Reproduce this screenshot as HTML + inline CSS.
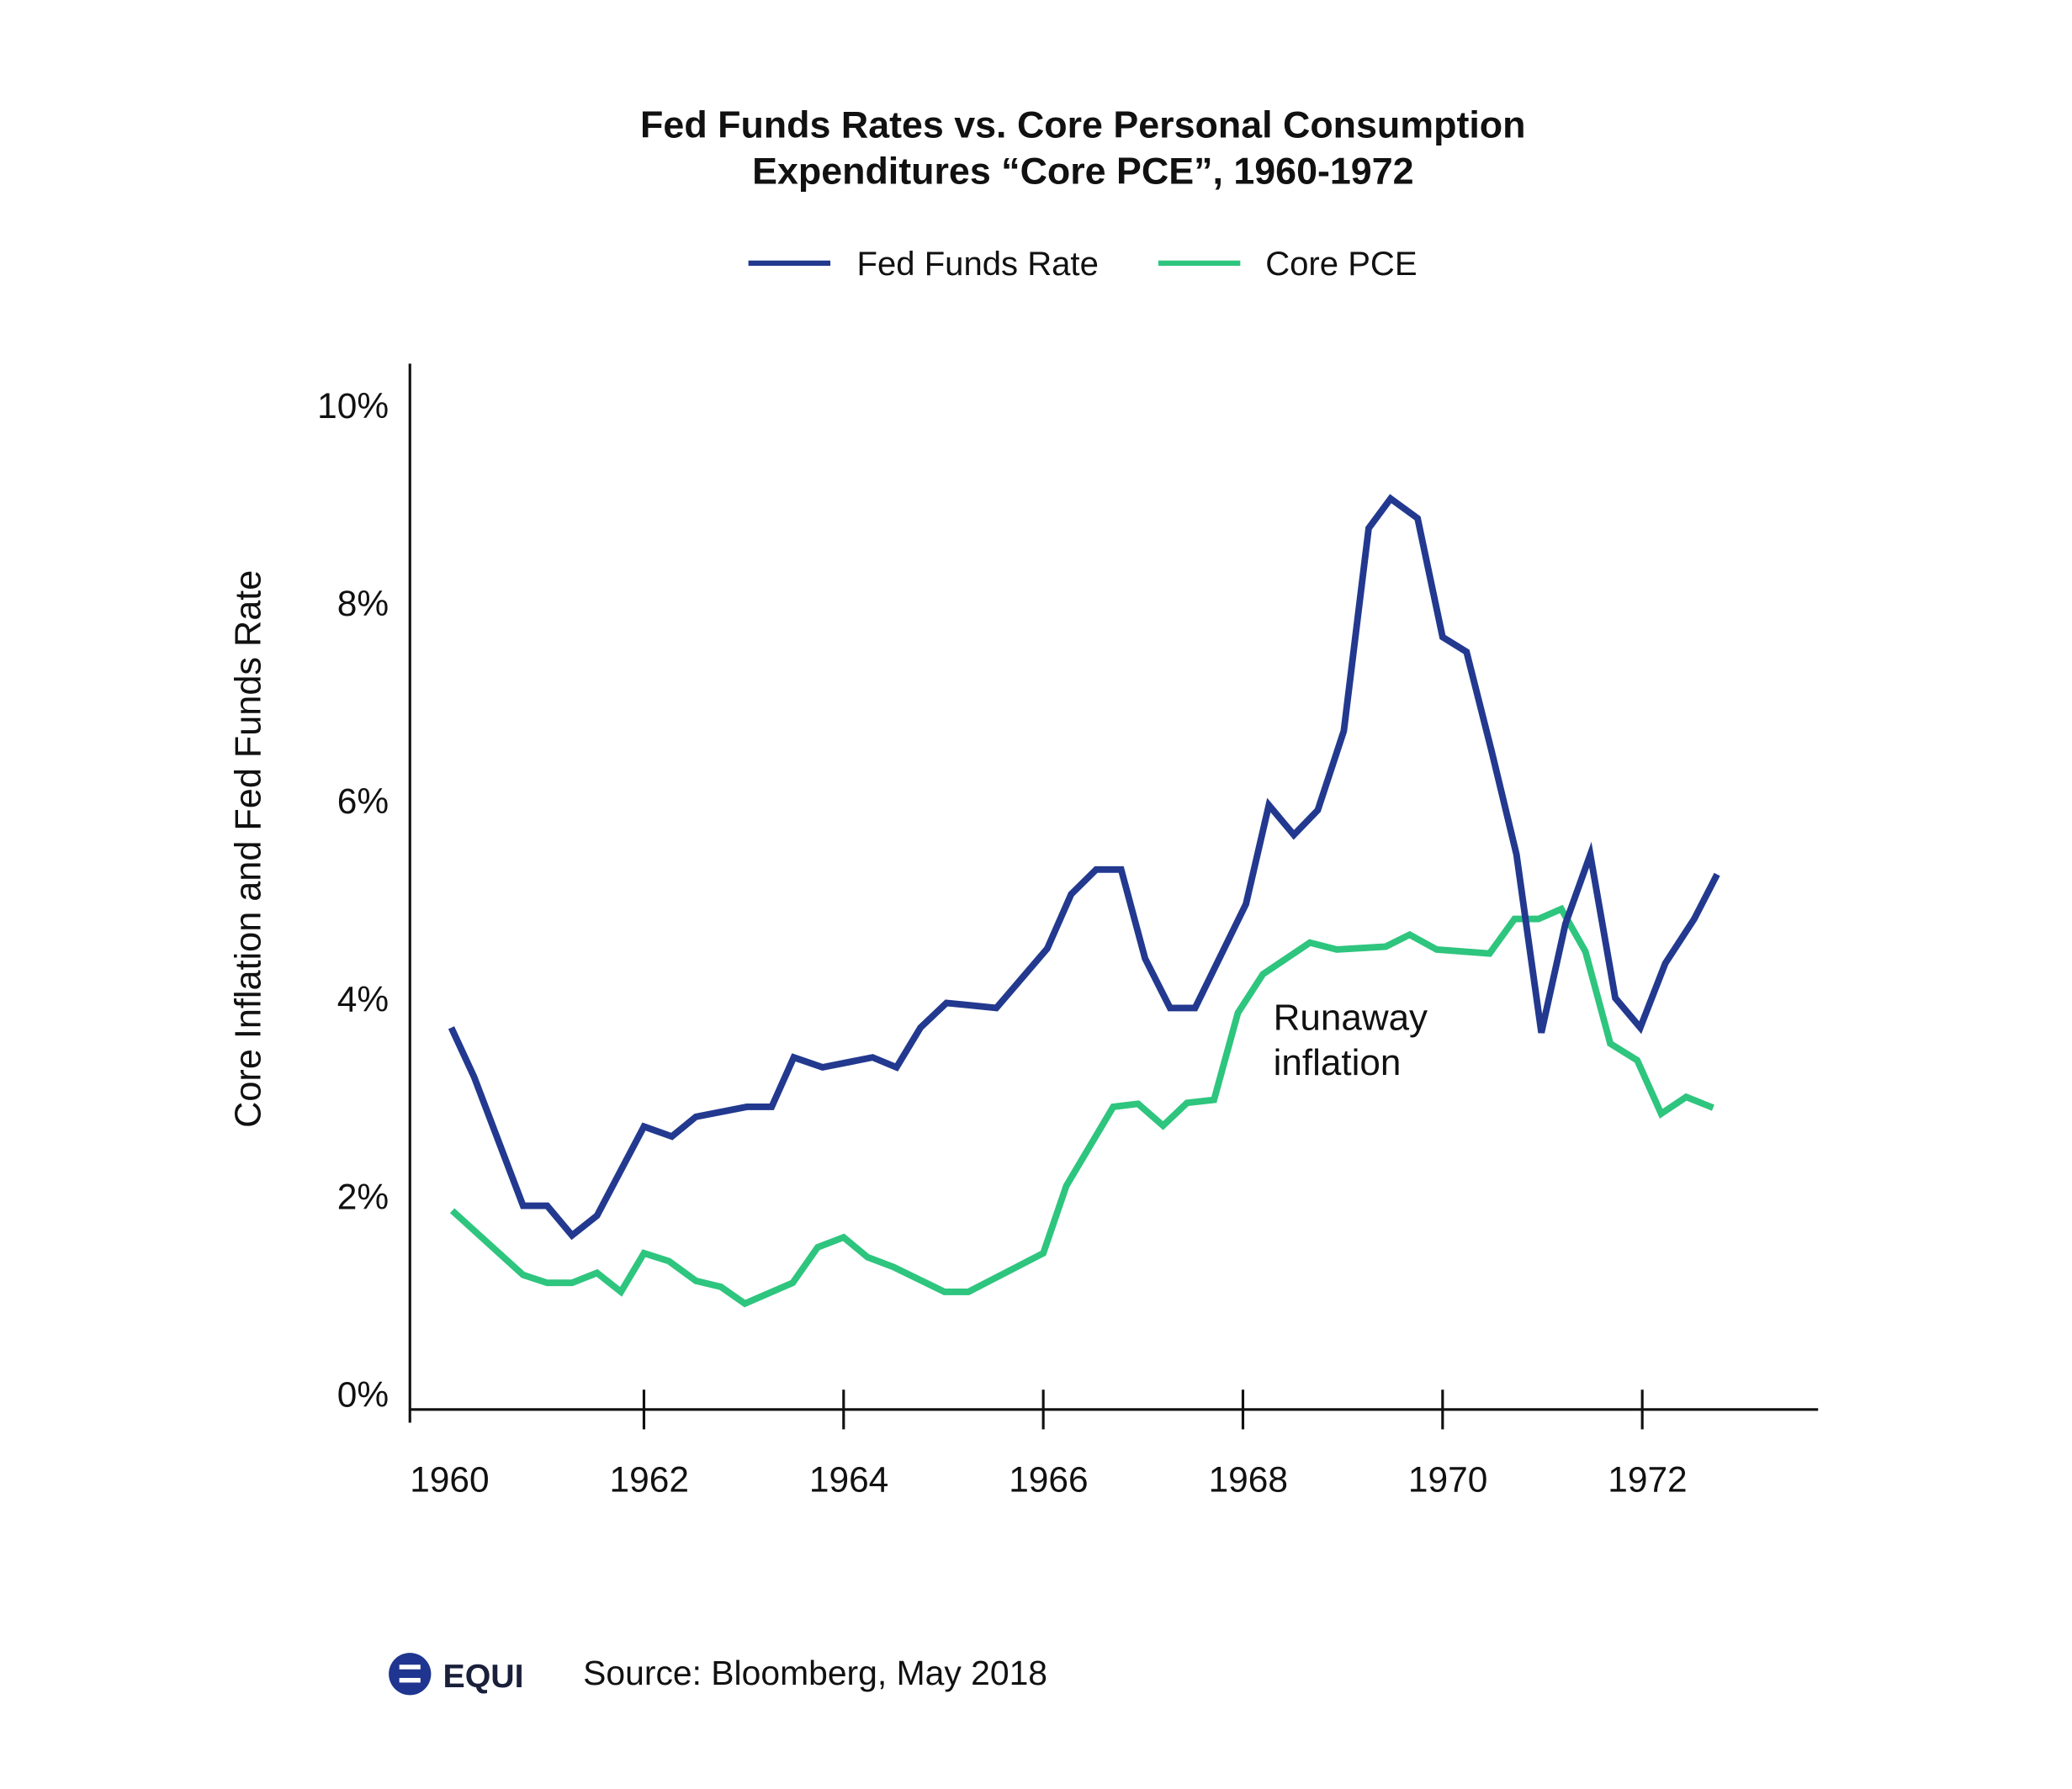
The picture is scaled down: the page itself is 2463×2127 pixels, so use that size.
<!DOCTYPE html>
<html><head><meta charset="utf-8"><style>
html,body{margin:0;padding:0;background:#fff}
svg{display:block;font-family:"Liberation Sans",sans-serif}
</style></head><body>
<svg id="chart" width="2463" height="2127" viewBox="0 0 1567 1353" preserveAspectRatio="none" xmlns="http://www.w3.org/2000/svg">
<rect width="1600" height="1400" fill="#fff"/>
<g font-size="28.5" font-weight="bold" fill="#111" text-anchor="middle">
<text x="819" y="104">Fed Funds Rates vs. Core Personal Consumption</text>
<text x="819" y="139">Expenditures “Core PCE”, 1960-1972</text>
</g>
<g font-size="25.5" fill="#111">
<line x1="566" y1="199" x2="628" y2="199" stroke="#22398f" stroke-width="4"/>
<text x="648" y="208">Fed Funds Rate</text>
<line x1="876" y1="199" x2="938" y2="199" stroke="#2ec57e" stroke-width="4"/>
<text x="957" y="208">Core PCE</text>
</g>
<line x1="310" y1="275" x2="310" y2="1076" stroke="#111" stroke-width="2"/>
<line x1="310" y1="1066" x2="1375" y2="1066" stroke="#111" stroke-width="2"/>
<text transform="translate(197,642) rotate(-90)" text-anchor="middle" font-size="27.5" fill="#111">Core Inflation and Fed Funds Rate</text>
<g id="yticks" font-size="27" fill="#111" text-anchor="end"></g>
<g id="xticks" font-size="27" fill="#111" text-anchor="middle"></g>
<g id="series"></g>
<g font-size="28" fill="#111">
<text x="963" y="779">Runaway</text>
<text x="963" y="813">inflation</text>
</g>
<g>
<circle cx="310" cy="1266" r="16" fill="#1f3590"/>
<rect x="302" y="1259" width="16" height="3.5" fill="#fff"/>
<rect x="302" y="1269" width="16" height="3.5" fill="#fff"/>
<text x="335" y="1276" font-size="25" font-weight="bold" fill="#1a1f3a">EQUI</text>
<text x="441" y="1274" font-size="26" fill="#111">Source: Bloomberg, May 2018</text>
</g>
</svg>
<script>
const yTickValues=[0,2,4,6,8,10];
const xTickYears=[1962,1964,1966,1968,1970,1972];
const xLabelYears=[1960,1962,1964,1966,1968,1970,1972];
const fedYears=[1960.07,1960.3,1960.79,1961.03,1961.28,1961.53,1962.0,1962.28,1962.52,1963.03,1963.28,1963.5,1963.79,1964.29,1964.53,1964.77,1965.03,1965.53,1966.04,1966.28,1966.53,1966.78,1967.02,1967.27,1967.52,1968.03,1968.26,1968.51,1968.75,1969.01,1969.26,1969.48,1969.75,1970.0,1970.24,1970.49,1970.74,1970.99,1971.23,1971.48,1971.73,1971.98,1972.23,1972.52,1972.75];
const fedValues=[3.7,3.2,1.9,1.9,1.6,1.8,2.7,2.6,2.8,2.9,2.9,3.4,3.3,3.4,3.3,3.7,3.95,3.9,4.5,5.05,5.3,5.3,4.4,3.9,3.9,4.95,5.95,5.65,5.9,6.7,8.75,9.05,8.85,7.65,7.5,6.5,5.45,3.65,4.75,5.45,4.0,3.7,4.35,4.8,5.25];
const pceYears=[1960.08,1960.79,1961.03,1961.28,1961.53,1961.77,1962.0,1962.25,1962.52,1962.77,1963.01,1963.49,1963.74,1964.0,1964.24,1964.5,1965.01,1965.25,1966.0,1966.23,1966.7,1966.95,1967.2,1967.44,1967.71,1967.95,1968.2,1968.67,1968.94,1969.43,1969.67,1969.94,1970.47,1970.72,1970.96,1971.19,1971.43,1971.68,1971.95,1972.19,1972.44,1972.71];
const pceValues=[1.85,1.2,1.12,1.12,1.22,1.03,1.42,1.34,1.14,1.08,0.91,1.12,1.48,1.58,1.38,1.28,1.03,1.03,1.42,2.1,2.9,2.93,2.71,2.94,2.97,3.85,4.24,4.56,4.49,4.52,4.64,4.49,4.45,4.8,4.8,4.9,4.47,3.54,3.37,2.83,3.0,2.89];
const NS='http://www.w3.org/2000/svg';
function xScale(yr){return 336+(yr-1960)*75.5;}
function yScale(v){return 1054-v*74.8;}
const yt=document.getElementById('yticks');
yTickValues.forEach(v=>{const t=document.createElementNS(NS,'text');


t.setAttribute('x',294);t.setAttribute('y',yScale(v)+10);t.textContent=v+'%';yt.appendChild(t);});
const xt=document.getElementById('xticks');
xTickYears.forEach(yr=>{const l=document.createElementNS(NS,'line');


const x=xScale(yr);l.setAttribute('x1',x);l.setAttribute('x2',x);l.setAttribute('y1',1051);l.setAttribute('y2',1081);l.setAttribute('stroke','#111');l.setAttribute('stroke-width','2');xt.appendChild(l);});
xLabelYears.forEach(yr=>{const t=document.createElementNS(NS,'text');


t.setAttribute('x',xScale(yr)+4);t.setAttribute('y',1128);t.textContent=yr;xt.appendChild(t);});
const sg=document.getElementById('series');
function line(years,vals,color,name){const p=document.createElementNS(NS,'polyline');


p.setAttribute('points',years.map((y,i)=>xScale(y).toFixed(1)+','+yScale(vals[i]).toFixed(1)).join(' '));
p.setAttribute('fill','none');p.setAttribute('stroke',color);p.setAttribute('stroke-width','5');p.setAttribute('stroke-linejoin','miter');sg.appendChild(p);}
line(pceYears,pceValues,'#2ec57e','core-pce-line');
line(fedYears,fedValues,'#22398f','fed-funds-line');
</script>
</body></html>
